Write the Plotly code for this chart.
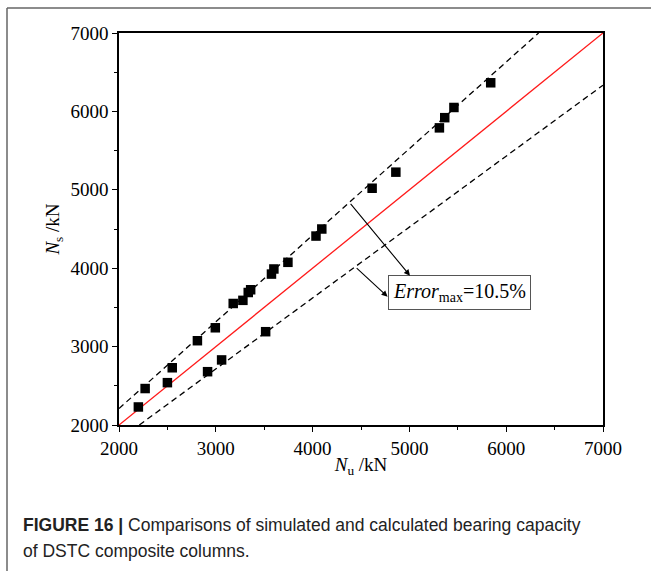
import plotly.graph_objects as go

# Calculated (N_u) vs simulated (N_s) bearing capacity, kN
n_u = [2200, 2270, 2500, 2550, 2810, 2915, 2995, 3060, 3180, 3280, 3335, 3360,
       3515, 3575, 3600, 3745, 4035, 4095, 4615, 4860, 5310, 5365, 5460, 5840]
n_s = [2230, 2465, 2540, 2730, 3075, 2680, 3240, 2830, 3550, 3590, 3690, 3725,
       3190, 3925, 3990, 4075, 4410, 4500, 5020, 5225, 5790, 5920, 6050, 6365]

# Reference lines: y = x and the +/-10.5 % error bounds
line_x = [2000, 7000]
ratio_upper = 1.105
ratio_lower = 1 / 1.105
upper_x = [2000, 7000 / ratio_upper]
lower_x = [2000 / ratio_lower, 7000]

W, H = 651, 571
L, R, T, B = 119, 48, 33, 146
pw, ph = W - L - R, H - T - B


def px(xp):
    return (xp - L) / pw


def py(yp):
    return (H - B - yp) / ph


serif = "Liberation Serif, Times New Roman, serif"
sans = "Liberation Sans, Arial, sans-serif"

fig = go.Figure()
fig.add_trace(go.Scatter(x=line_x, y=line_x, mode="lines",
                         line=dict(color="#ff1a1a", width=1.3), hoverinfo="skip"))
fig.add_trace(go.Scatter(x=upper_x, y=[v * ratio_upper for v in upper_x], mode="lines",
                         line=dict(color="black", width=1.3, dash="6px,4px"), hoverinfo="skip"))
fig.add_trace(go.Scatter(x=lower_x, y=[v * ratio_lower for v in lower_x], mode="lines",
                         line=dict(color="black", width=1.3, dash="6px,4px"), hoverinfo="skip"))
fig.add_trace(go.Scatter(x=n_u, y=n_s, mode="markers",
                         marker=dict(symbol="square", size=9.5, color="black")))

axis_common = dict(
    range=[2000, 7000], dtick=1000, showgrid=False, zeroline=False,
    showline=True, linecolor="black", linewidth=1.5, mirror=True,
    ticks="outside", ticklen=5, tickwidth=1.3, tickcolor="black",
    minor=dict(dtick=500, ticks="outside", ticklen=3, tickwidth=1.3, tickcolor="black"),
    tickfont=dict(family=serif, size=19, color="black"),
)

fig.update_layout(
    width=W, height=H,
    margin=dict(l=L, r=R, t=T, b=B),
    paper_bgcolor="white", plot_bgcolor="white",
    showlegend=False,
    xaxis=dict(**axis_common,
               title=dict(text="<i>N</i><sub>u</sub> /kN", standoff=0,
                          font=dict(family=serif, size=19, color="black"))),
    yaxis=dict(**axis_common,
               title=dict(text="<i>N</i><sub>s</sub> /kN", standoff=6,
                          font=dict(family=serif, size=19, color="black"))),
)

# Error box and its pointers
box_x, box_y = 5518, 3690
fig.add_annotation(x=box_x, y=box_y, xref="x", yref="y", showarrow=False,
                   text="<i>Error</i><sub>max</sub>=10.5%",
                   font=dict(family=serif, size=20, color="black"),
                   bordercolor="#555555", borderwidth=1, borderpad=4, bgcolor="white")
fig.add_annotation(x=5006, y=3905, ax=4380, ay=4840, xref="x", yref="y",
                   axref="x", ayref="y", showarrow=True, arrowhead=2,
                   arrowsize=1.1, arrowwidth=1.1, arrowcolor="black", standoff=0, text="")
fig.add_annotation(x=4775, y=3636, ax=4440, ay=4018, xref="x", yref="y",
                   axref="x", ayref="y", showarrow=True, arrowhead=2,
                   arrowsize=1.1, arrowwidth=1.1, arrowcolor="black", standoff=0, text="")

# Outer frame (top and left edges)
fig.add_shape(type="line", xref="paper", yref="paper",
              x0=px(7), y0=py(8), x1=px(W + 2), y1=py(8),
              line=dict(color="#666666", width=1.5))
fig.add_shape(type="line", xref="paper", yref="paper",
              x0=px(7), y0=py(8), x1=px(7), y1=py(H + 2),
              line=dict(color="#666666", width=1.5))

# Caption
fig.add_annotation(xref="paper", yref="paper", x=px(21), y=py(525),
                   xanchor="left", yanchor="middle", showarrow=False, align="left",
                   text="<b>FIGURE 16 |</b> Comparisons of simulated and calculated bearing capacity",
                   font=dict(family=sans, size=17.5, color="#222222"))
fig.add_annotation(xref="paper", yref="paper", x=px(21), y=py(551),
                   xanchor="left", yanchor="middle", showarrow=False, align="left",
                   text="of DSTC composite columns.",
                   font=dict(family=sans, size=17.5, color="#222222"))

fig.write_html("out.html")
